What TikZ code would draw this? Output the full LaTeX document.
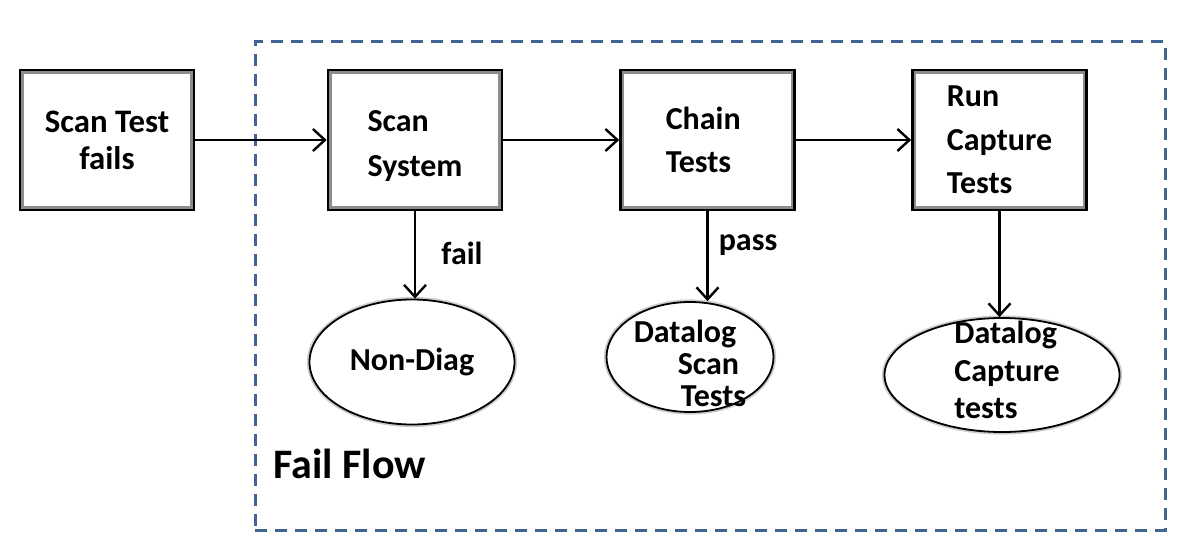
\documentclass[tikz,border=0pt]{standalone}
\usepackage{fontspec}
\setmainfont{Carlito}
\usetikzlibrary{arrows.meta,shapes.geometric}
\definecolor{dashblue}{RGB}{65,100,145}
\begin{document}
\begin{tikzpicture}[x=0.5pt,y=-0.5pt,
  stepbox/.style={draw=black, line width=1.3pt, fill=white, minimum width=87pt, minimum height=70pt,
    inner sep=0pt, align=left,
    path picture={\draw[black!45, line width=3.6pt] (path picture bounding box.south west) rectangle (path picture bounding box.north east);}},
  oval/.style={ellipse, draw=black, line width=0.9pt, fill=white, inner sep=0pt,
    preaction={draw=black!20, line width=2.6pt}},
  txt/.style={font=\bfseries\fontsize{16}{21.5}\selectfont},
  conn/.style={line width=1.2pt, -{Straight Barb[length=6pt,width=11pt,line width=1.2pt]}},
  lbl/.style={font=\bfseries\fontsize{16}{19}\selectfont, inner sep=0pt}
]
\useasboundingbox (0,0) rectangle (1181,551);
% dashed frame
\node[draw=dashblue, line width=1.5pt, dash pattern=on 6pt off 4pt, minimum width=455pt, minimum height=244pt, inner sep=0pt] (frame) at (710,286) {};
\node[anchor=base west, inner sep=0pt, font=\bfseries\fontsize{21}{25}\selectfont] (ff) at (273,478) {Fail Flow};
% boxes
\node[stepbox, align=center, font=\bfseries\fontsize{16.4}{18.5}\selectfont] (b1) at (107,140) {Scan Test\\fails};
\node[stepbox, font=\bfseries\fontsize{16}{22.5}\selectfont] (b2) at (415,140) {\rule{0pt}{17pt}Scan\\System};
\node[stepbox, txt] (b3) at (707.5,140) {Chain\\Tests\hspace*{9pt}};
\node[stepbox, font=\bfseries\fontsize{16}{21.75}\selectfont] (b4) at (999.5,140) {Run\\Capture\\Tests};
% ellipses
\node[oval, font=\bfseries\fontsize{16}{19}\selectfont, minimum width=102.5pt, minimum height=62.5pt] (e1) at (412,362) {Non-Diag};
\node[oval, minimum width=83.5pt, minimum height=55pt,
  label={[inner sep=0pt, align=left, font=\bfseries\fontsize{16}{16}\selectfont]center:\rule{0pt}{18pt}Datalog\\\hspace*{22pt}Scan\\\hspace*{23.5pt}Tests}] (e2) at (690,357) {};
\node[oval, minimum width=117.5pt, minimum height=57pt,
  label={[inner sep=0pt, align=left, font=\bfseries\fontsize{16}{18.75}\selectfont]center:\hspace*{5pt}Datalog\\\hspace*{5pt}Capture\\\hspace*{5pt}tests\rule[-5pt]{0pt}{5pt}}] (e3) at (1002,375) {};
% connectors
\draw[conn] (b1.east) -- (b2.west);
\draw[conn] (b2.east) -- (b3.west);
\draw[conn] (b3.east) -- (b4.west);
\draw[conn] (b2.south) -- (b2.south |- e1.north);
\draw[conn] (b3.south) -- (b3.south |- e2.north);
\draw[conn] (b4.south) -- (b4.south |- e3.north);
\node[lbl] (lfail) at (462,253) {fail};
\node[lbl] (lpass) at (748,245) {pass};
\end{tikzpicture}
\end{document}
